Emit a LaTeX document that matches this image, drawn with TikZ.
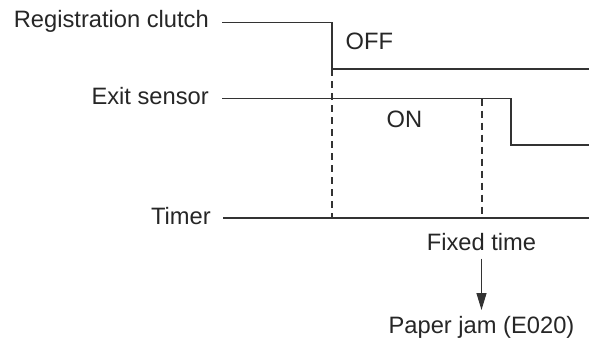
\documentclass[tikz,border=0pt]{standalone}
\usepackage{fontspec}
\setmainfont{Liberation Sans}
\usetikzlibrary{arrows.meta}
\begin{document}
\begin{tikzpicture}[x=1pt,y=-1pt,
  lbl/.style={font=\fontsize{23.7}{28}\selectfont, inner sep=0pt, text=black!85},
  wave/.style={line width=1.2pt, black!80},
  guide/.style={line width=1.2pt, black!80, dash pattern=on 7pt off 5pt},
  arr/.style={line width=1.2pt, black!80, -{Triangle[length=17pt,width=10pt]}}]
\useasboundingbox (0,0) rectangle (589,341);
% labels
\node[lbl, anchor=base east] (rc) at (209,27.5) {Registration clutch};
\node[lbl, anchor=base east] (es) at (209,104) {Exit sensor};
\node[lbl, anchor=base east] (tm) at (211,224) {Timer};
\node[lbl, anchor=base west] (off) at (345.5,49) {OFF};
\node[lbl, anchor=base west] (on) at (386.5,127) {ON};
\node[lbl, anchor=base] (ft) at (481.5,250.7) {Fixed time};
\node[lbl, anchor=base] (pj) at (481.5,333) {Paper jam (E020)};
% coordinates
\coordinate (rcS) at (222,22.5);
\coordinate (rcD) at (332,22.5);
\coordinate (rcL) at (332,69);
\coordinate (rcE) at (589,69);
\coordinate (esS) at (222,98.5);
\coordinate (esD) at (511,98.5);
\coordinate (esL) at (511,145);
\coordinate (esE) at (589,145);
\coordinate (esM) at (482,98.5);
\coordinate (tmS) at (223,218);
\coordinate (tmE) at (589,218);
\coordinate (t1) at (332,218);
\coordinate (t2) at (482,218);
% waveforms
\draw[wave] (rcS) -- (rcD) -- (rcL) -- (rcE);
\draw[wave] (esS) -- (esD) -- (esL) -- (esE);
\draw[wave] (tmS) -- (tmE);
% guides
\draw[guide] (rcL) -- (t1);
\draw[guide] (esM) -- (t2);
% arrow
\draw[arr] ([yshift=-8pt]ft.base) -- ([yshift=23pt]pj.base);
\end{tikzpicture}
\end{document}
